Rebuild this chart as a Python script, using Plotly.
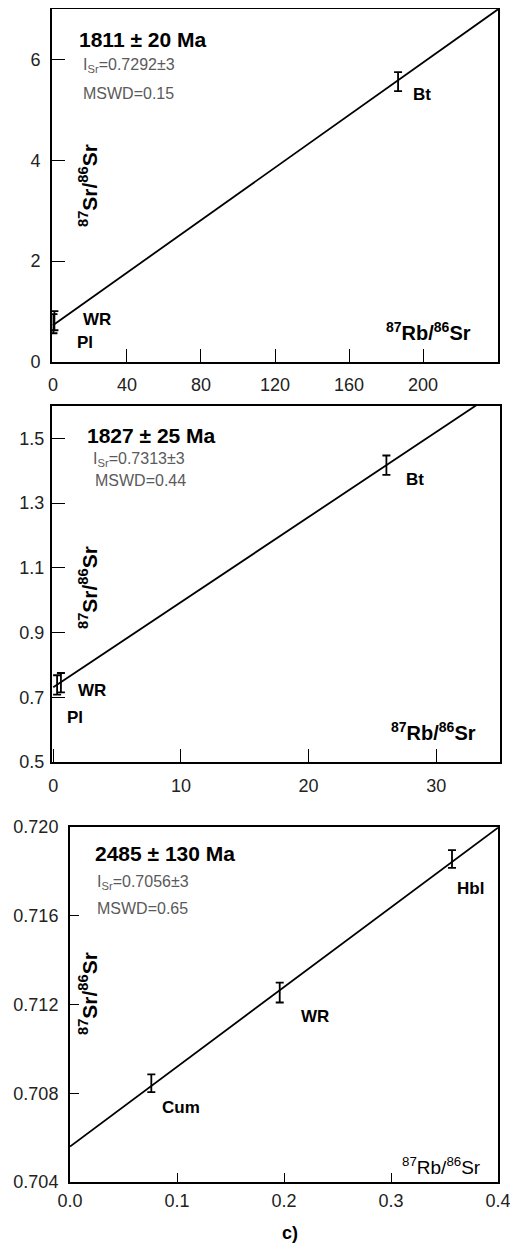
import plotly.graph_objects as go

# page body has an 8px margin, so the figure is drawn from (8, 8)
OFF = 8
W, H = 518 - OFF, 1245 - OFF
FONT = "Liberation Sans, Arial, sans-serif"

# ---------------- data ----------------
# panel a
a_labels = ["Bt", "WR", "Pl"]
a_x = [186.5, 0.8, 0.3]
a_y = [5.56, 0.82, 0.76]
a_err = [0.19, 0.19, 0.19]
a_intercept = 0.7292
a_slope = 0.02605
a_xticks = [0, 40, 80, 120, 160, 200]
a_yticks = [0, 2, 4, 6]

# panel b
b_labels = ["Bt", "WR", "Pl"]
b_x = [26.1, 0.6, 0.3]
b_y = [1.417, 0.745, 0.738]
b_err = [0.03, 0.03, 0.03]
b_intercept = 0.7313
b_slope = 0.02628
b_xticks = [0, 10, 20, 30]
b_yticks = [0.5, 0.7, 0.9, 1.1, 1.3, 1.5]

# panel c
c_labels = ["Cum", "WR", "Hbl"]
c_x = [0.076, 0.196, 0.357]
c_y = [0.70845, 0.71254, 0.71856]
c_err = [0.0004, 0.00045, 0.0004]
c_intercept = 0.7056
c_slope = 0.03592
c_xticks = [0.0, 0.1, 0.2, 0.3, 0.4]
c_yticks = [0.704, 0.708, 0.712, 0.716, 0.720]

ages = ["1811 ± 20 Ma", "1827 ± 25 Ma", "2485 ± 130 Ma"]
isr = ["0.7292±3", "0.7313±3", "0.7056±3"]
mswd = ["0.15", "0.44", "0.65"]


def px(x, y):
    return (x - OFF) / W, 1 - (y - OFF) / H


fig = go.Figure()

panels = [
    dict(x=a_x, y=a_y, e=a_err, i=a_intercept, s=a_slope, xr=[-0.5, 240.5], yr=[0, 7.0],
         xt=a_xticks, yt=a_yticks, xf="", yf="", box=(52, 9, 498, 362), tl=13, ax="",
         xs=5, ys=6),
    dict(x=b_x, y=b_y, e=b_err, i=b_intercept, s=b_slope, xr=[-0.1, 35], yr=[0.5, 1.6],
         xt=b_xticks, yt=b_yticks, xf="", yf=".1f", box=(52, 406, 500, 762), tl=13, ax="2",
         xs=6, ys=2),
    dict(x=c_x, y=c_y, e=c_err, i=c_intercept, s=c_slope, xr=[0, 0.4], yr=[0.704, 0.720],
         xt=c_xticks, yt=c_yticks, xf=".1f", yf=".3f", box=(70, 827, 498, 1182), tl=9, ax="3",
         xs=1, ys=6),
]

for p in panels:
    xa = "x" + p["ax"]
    ya = "y" + p["ax"]
    # regression line (clipped by axes)
    lx = [max(p["xr"][0], 0), p["xr"][1]]
    ly = [p["i"] + p["s"] * v for v in lx]
    fig.add_trace(go.Scatter(x=lx, y=ly, mode="lines", line=dict(color="black", width=1.8),
                             xaxis=xa, yaxis=ya, showlegend=False, hoverinfo="skip"))
    fig.add_trace(go.Scatter(x=p["x"], y=p["y"], mode="markers",
                             marker=dict(size=1, color="black"),
                             error_y=dict(type="data", array=p["e"], color="black",
                                          thickness=1.8, width=4),
                             xaxis=xa, yaxis=ya, showlegend=False))

    x0, y0, x1, y1 = p["box"]
    dx0, dy1 = px(x0, y0)
    dx1, dy0 = px(x1, y1)
    axis_common = dict(showline=True, linecolor="black", linewidth=2, mirror=True,
                       ticks="inside", tickcolor="black", tickwidth=1.3, ticklen=p["tl"],
                       showgrid=False, zeroline=False, automargin=False,
                       tickfont=dict(family=FONT, size=18, color="#222"))
    fig.layout["xaxis" + p["ax"]] = dict(domain=[dx0, dx1], range=p["xr"], anchor=ya,
                                         tickvals=p["xt"], tickformat=p["xf"],
                                         ticklabelstandoff=p["xs"], **axis_common)
    fig.layout["yaxis" + p["ax"]] = dict(domain=[dy0, dy1], range=p["yr"], anchor=xa,
                                         tickvals=p["yt"], tickformat=p["yf"],
                                         ticklabelstandoff=p["ys"], **axis_common)

ann = []


def text(x, y, t, size, bold=False, color="black", xanchor="center", angle=0):
    xx, yy = px(x, y)
    if bold:
        t = "<b>" + t + "</b>"
    ann.append(dict(x=xx, y=yy, xref="paper", yref="paper", text=t, showarrow=False,
                    xanchor=xanchor, yanchor="middle", textangle=angle,
                    font=dict(family=FONT, size=size, color=color)))


GRAY = "#5a5a5a"
ytitle = "<sup>87</sup>Sr/<sup>86</sup>Sr"
xtitle = "<sup>87</sup>Rb/<sup>86</sup>Sr"

# panel a texts
text(77, 40, ages[0], 21, bold=True, xanchor="left")
text(81, 66, "I<sub>Sr</sub>=" + isr[0], 16, color=GRAY, xanchor="left")
text(81, 93, "MSWD=" + mswd[0], 16, color=GRAY, xanchor="left")
text(88, 186, ytitle, 21, bold=True, angle=-90)
text(428, 331, xtitle, 20, bold=True)
text(422, 95, a_labels[0], 17, bold=True)
text(97, 320, a_labels[1], 17, bold=True)
text(85, 342, a_labels[2], 17, bold=True)

# panel b texts
text(85, 435, ages[1], 21, bold=True, xanchor="left")
text(91, 459, "I<sub>Sr</sub>=" + isr[1], 16, color=GRAY, xanchor="left")
text(93, 480, "MSWD=" + mswd[1], 16, color=GRAY, xanchor="left")
text(88, 588, ytitle, 21, bold=True, angle=-90)
text(433, 731, xtitle, 20, bold=True)
text(415, 479, b_labels[0], 17, bold=True)
text(92, 690, b_labels[1], 17, bold=True)
text(75, 717, b_labels[2], 17, bold=True)

# panel c texts
text(93, 853, ages[2], 21, bold=True, xanchor="left")
text(95, 882, "I<sub>Sr</sub>=" + isr[2], 16, color=GRAY, xanchor="left")
text(95, 908, "MSWD=" + mswd[2], 16, color=GRAY, xanchor="left")
text(88, 994, ytitle, 21, bold=True, angle=-90)
text(441, 1166, xtitle, 19)
text(181, 1107, c_labels[0], 17, bold=True)
text(315, 1016, c_labels[1], 17, bold=True)
text(470, 888, c_labels[2], 17, bold=True)
text(290, 1233, "c)", 18, bold=True)

fig.update_layout(width=W, height=H,
                  margin=dict(l=0, r=0, t=0, b=0, pad=0, autoexpand=False),
                  paper_bgcolor="white", plot_bgcolor="white", annotations=ann,
                  font=dict(family=FONT))

fig.write_html("out.html")
